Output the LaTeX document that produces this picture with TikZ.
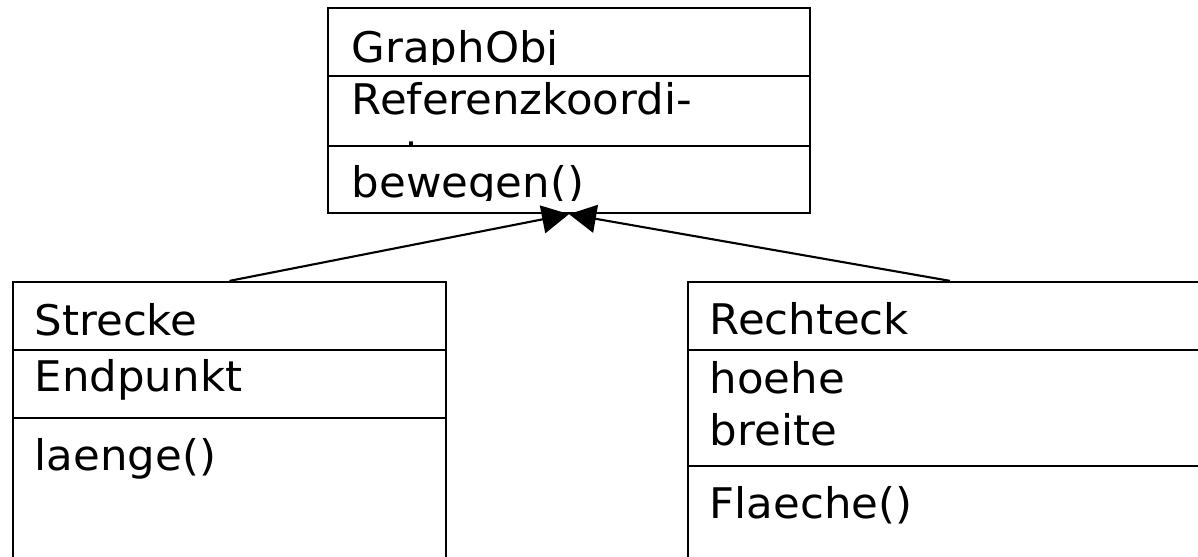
\documentclass[tikz,border=0pt]{standalone}
\usepackage{fontspec}
\setmainfont{DejaVu Sans}[FakeStretch=1.03]
\usetikzlibrary{arrows.meta}

\begin{document}
\begin{tikzpicture}[x=0.01cm, y=-0.01cm,
  classbox/.style={draw, line width=0.6pt, inner sep=0pt},
  member/.style={anchor=base west, inner sep=0pt, font=\fontsize{12pt}{15pt}\selectfont},
  inherit/.style={line width=0.6pt, -{Triangle[length=0.27cm,width=0.28cm]}}]
\useasboundingbox (0,0) rectangle (1198,556);
%\draw[help lines, color=gray!30, dashed] (0,0) grid[step=100] (1198,556);
\node[classbox, minimum width=4.82cm, minimum height=2.05cm] (graphobj) at (569,110.5) {};
\node[classbox, minimum width=4.33cm, minimum height=3.2cm] (strecke) at (229.5,442) {};
\node[classbox, minimum width=5.24cm, minimum height=3.2cm] (rechteck) at (950,442) {};
% compartments
\draw[line width=0.6pt] (328,76) -- (810,76);
\draw[line width=0.6pt] (328,146) -- (810,146);
\draw[line width=0.6pt] (13,350) -- (446,350);
\draw[line width=0.6pt] (13,418) -- (446,418);
\draw[line width=0.6pt] (688,350) -- (1212,350);
\draw[line width=0.6pt] (688,466) -- (1212,466);
% GraphObj, text cut off at the compartment edges
\begin{scope}
\clip (328,8) rectangle (810,64);
\node[member] (gname) at (351,62) {GraphObj};
\end{scope}
\begin{scope}
\clip (328,76) rectangle (810,146);
% base of a two-line node is its last line
\node[member, align=left, font=\fontsize{12pt}{16pt}\selectfont] (gattr) at (351,171) {Referenzkoordi-\\naten};
\end{scope}
\begin{scope}
\clip (328,146) rectangle (810,200);
\node[member] (gop) at (351,197) {bewegen()};
\end{scope}
% Strecke
\node[member] (sname) at (34,335) {Strecke};
\node[member] (sattr) at (34,391) {Endpunkt};
\node[member] (sop) at (34,470) {laenge()};
% Rechteck
\node[member] (rname) at (709,334) {Rechteck};
\node[member] (rattr) at (709,393) {hoehe};
\node[member] (rattrb) at (709,445) {breite};
\node[member] (rop) at (709,518) {Flaeche()};
% inheritance
\draw[inherit] (strecke.north) -- (graphobj.south);
\draw[inherit] (rechteck.north) -- (graphobj.south);
\end{tikzpicture}
\end{document}
